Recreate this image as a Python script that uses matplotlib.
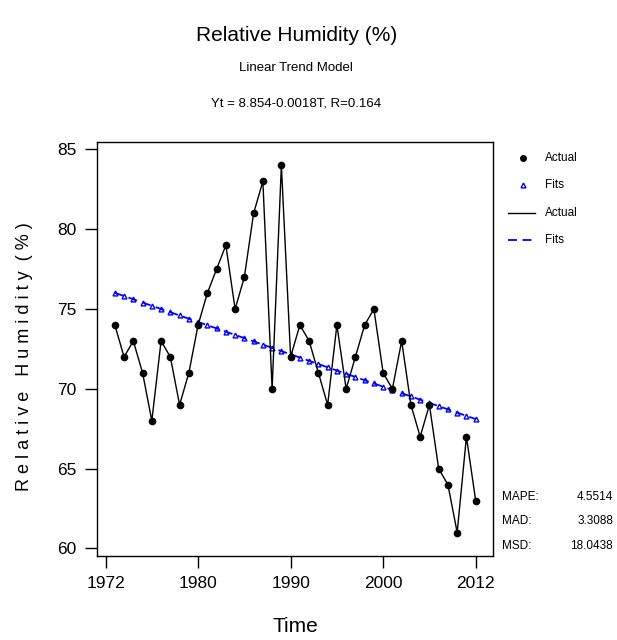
import numpy as np
import matplotlib.pyplot as plt

plt.rcParams['font.family'] = ['Liberation Sans', 'DejaVu Sans']

# Data (index 1..40)
humidity = [74, 72, 73, 71, 68, 73, 72, 69, 71, 74,
            76, 77.5, 79, 75, 77, 81, 83, 70, 84, 72,
            74, 73, 71, 69, 74, 70, 72, 74, 75, 71,
            70, 73, 69, 67, 69, 65, 64, 61, 67, 63]
tick_pos = [0, 10, 20, 30, 40]
tick_labels = ['1972', '1980', '1990', '2000', '2012']
stats_names = ['MAPE:', 'MAD:', 'MSD:']
stats_values = ['4.5514', '3.3088', '18.0438']

t = np.arange(1, len(humidity) + 1)
y = np.array(humidity)
slope, intercept = np.polyfit(t, y, 1)
fits = intercept + slope * t

fig = plt.figure(figsize=(6.17, 6.40), dpi=100)
ax = fig.add_axes([0.157, 0.131, 0.642, 0.647])

ax.plot(t, y, color='black', lw=1, zorder=3)
ax.plot(t, y, 'o', color='black', ms=4.5, zorder=4)
ax.plot(t, fits, '--', color='blue', lw=1.3, dashes=(5, 3), zorder=2)
ax.plot(t, fits, '^', mfc='none', mec='blue', ms=3.5, mew=1, zorder=2)

ax.set_xlim(-0.94, 41.87)
ax.set_ylim(59.52, 85.46)
ax.set_xticks(tick_pos)
ax.set_xticklabels(tick_labels)
ax.set_yticks([60, 65, 70, 75, 80, 85])
ax.tick_params(direction='out', length=8.5, width=1, labelsize=12.5, pad=6)
for s in ax.spines.values():
    s.set_linewidth(1)

# axis titles
fig.text(295 / 617, 1 - 627 / 640, 'Time', ha='center', va='center', fontsize=15)
fig.text(25 / 617, 1 - 357 / 640, 'R e l a t i v e   H u m i d i t y  ( % )',
         ha='center', va='center', rotation=90, fontsize=13)

fig.text(0.48, 0.945, 'Relative Humidity (%)', ha='center', va='center', fontsize=15)
fig.text(0.48, 0.894, 'Linear Trend Model', ha='center', va='center', fontsize=9.5)
fig.text(0.48, 0.839, 'Yt = 8.854-0.0018T, R=0.164', ha='center', va='center', fontsize=9.5)

# legend
fig.lines.append(plt.Line2D([523 / 617], [1 - 158 / 640], marker='o', color='black', ms=4, transform=fig.transFigure))
fig.lines.append(plt.Line2D([523 / 617], [1 - 185 / 640], marker='^', mfc='none', mec='blue', ms=3.5, transform=fig.transFigure))
fig.lines.append(plt.Line2D([508 / 617, 535 / 617], [1 - 213 / 640] * 2, color='black', lw=1, transform=fig.transFigure))
fig.lines.append(plt.Line2D([508 / 617, 535 / 617], [1 - 240 / 640] * 2, color='blue', lw=1.3, ls='--', dashes=(5, 3), transform=fig.transFigure))
for yy, lab in zip([158, 185, 213, 240], ['Actual', 'Fits', 'Actual', 'Fits']):
    fig.text(545 / 617, 1 - yy / 640, lab, ha='left', va='center', fontsize=8.5)

for i, (n, v) in enumerate(zip(stats_names, stats_values)):
    yy = 1 - (497 + 24.5 * i) / 640
    fig.text(502 / 617, yy, n, ha='left', va='center', fontsize=8.5)
    fig.text(613 / 617, yy, v, ha='right', va='center', fontsize=8.5)

fig.savefig('out.png', dpi=100)
